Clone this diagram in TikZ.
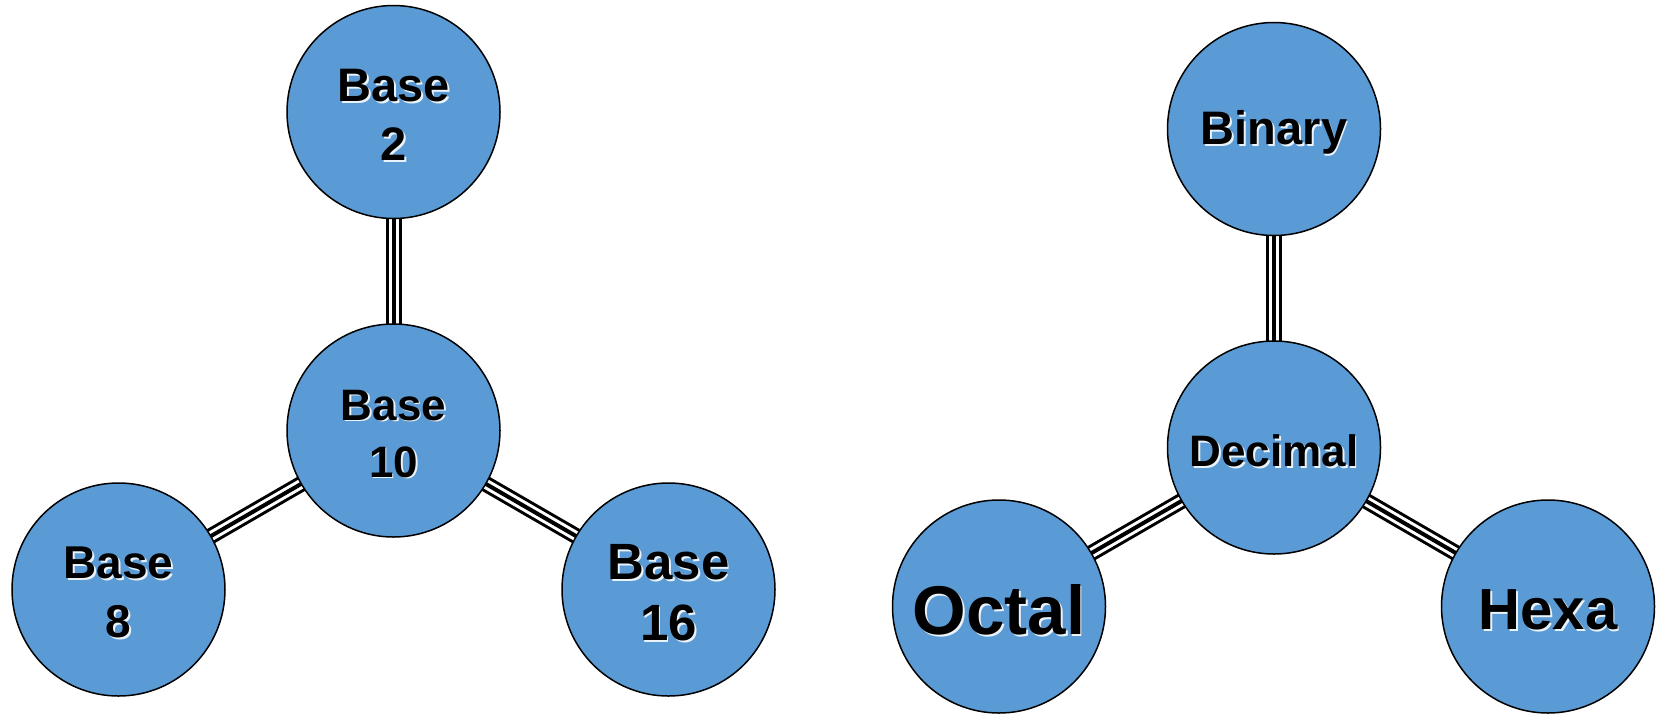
\documentclass[tikz,border=0pt]{standalone}
\usepackage{fontspec}
\setmainfont{Liberation Sans}
\pgfdeclarelayer{background}
\pgfsetlayers{background,main}
\definecolor{ballblue}{HTML}{5B9BD5}
\newcommand\shd[1]{\raisebox{-2pt}[\height][\depth]{\rlap{\kern0.9pt\raisebox{-0.9pt}{\textcolor{white!88!ballblue}{#1}}}#1}}
\tikzset{
  ball/.style={circle, draw=black, line width=0.75pt, fill=ballblue,
    minimum size=106.5pt, inner sep=0pt, align=center, font=\bfseries},
  conn/.style={line width=8pt, draw=black,
    postaction={draw=white, line width=5pt},
    postaction={draw=black, line width=2pt}}
}
\begin{document}
\begin{tikzpicture}[x=0.5pt,y=-0.5pt]
\useasboundingbox (0,0) rectangle (1659,714);
% left group
\node[ball, font=\bfseries\fontsize{23.5}{29.5}\selectfont] (b2) at (393.5,112) {\shd{Base}\\\shd{2}};
\node[ball, font=\bfseries\fontsize{22}{28.5}\selectfont] (b10) at (393.5,430.5) {\shd{Base}\\\shd{10}};
\node[ball, font=\bfseries\fontsize{23}{29.5}\selectfont] (b8) at (118.5,589.5) {\shd{Base}\\\shd{8}};
\node[ball, font=\bfseries\fontsize{25.5}{30.5}\selectfont] (b16) at (668.5,589.5) {\shd{Base}\\\shd{16}};
% right group
\node[ball, font=\bfseries\fontsize{23.5}{28}\selectfont] (bin) at (1274,129) {\shd{Binary}};
\node[ball, font=\bfseries\fontsize{22}{28}\selectfont] (dec) at (1274,447.5) {\shd{Decimal}};
\node[ball, font=\bfseries\fontsize{34.5}{40}\selectfont] (oct) at (999,606.5) {\shd{Octal}};
\node[ball, font=\bfseries\fontsize{29}{35}\selectfont] (hex) at (1548,606.5) {\shd{Hexa}};
\begin{pgfonlayer}{background}
\draw[conn] (b2.center) -- (b10.center);
\draw[conn] (b10.center) -- (b8.center);
\draw[conn] (b10.center) -- (b16.center);
\draw[conn] (bin.center) -- (dec.center);
\draw[conn] (dec.center) -- (oct.center);
\draw[conn] (dec.center) -- (hex.center);
\end{pgfonlayer}
\end{tikzpicture}
\end{document}
